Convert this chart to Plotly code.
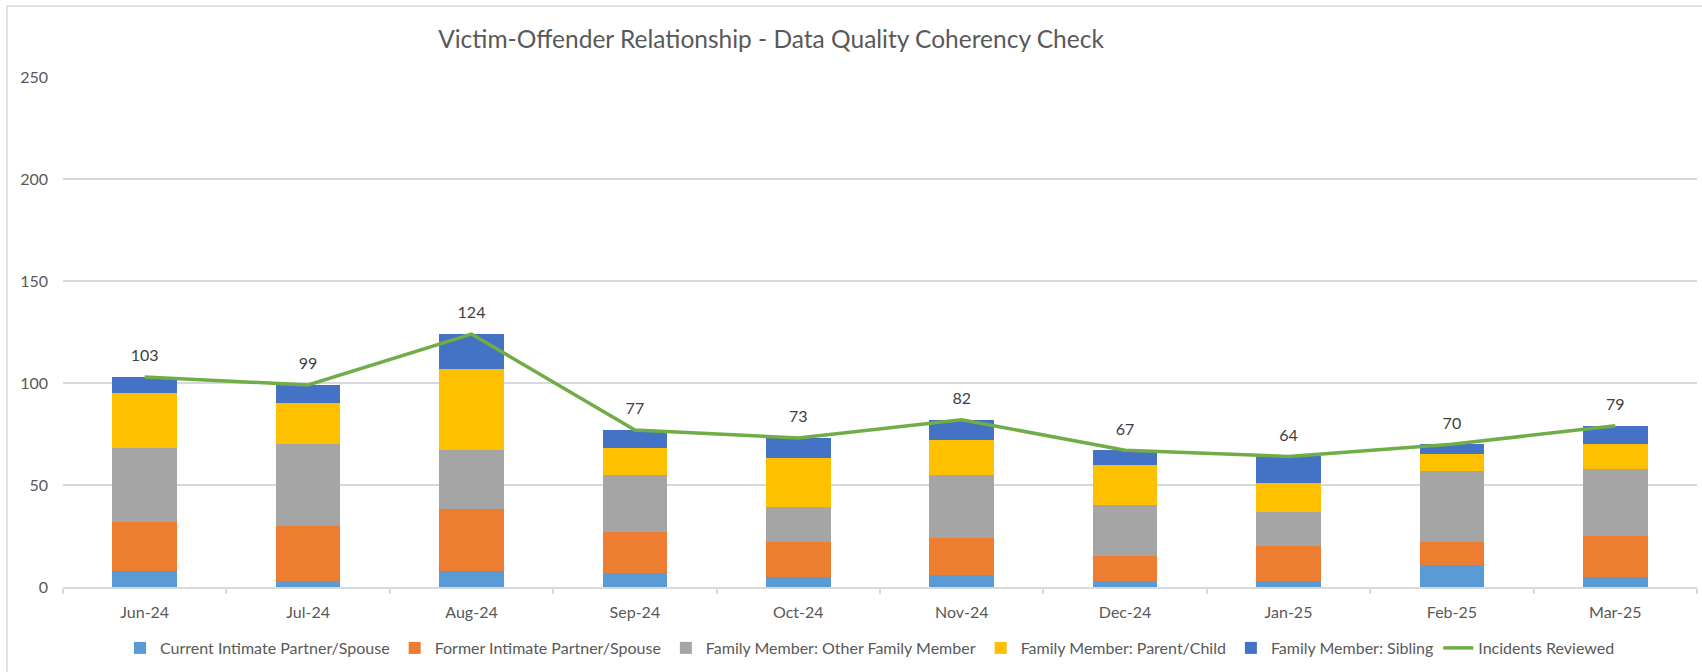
import plotly.graph_objects as go

months = ["Jun-24", "Jul-24", "Aug-24", "Sep-24", "Oct-24", "Nov-24", "Dec-24", "Jan-25", "Feb-25", "Mar-25"]
current_partner = [8, 3, 8, 7, 5, 6, 3, 3, 11, 5]
former_partner = [24, 27, 30, 20, 17, 18, 12, 17, 11, 20]
other_family = [36, 40, 29, 28, 17, 31, 25, 17, 35, 33]
parent_child = [27, 20, 40, 13, 24, 17, 20, 14, 8, 12]
sibling = [8, 9, 17, 9, 10, 10, 7, 13, 5, 9]
incidents_reviewed = [103, 99, 124, 77, 73, 82, 67, 64, 70, 79]

series = [
    ("Current Intimate Partner/Spouse", current_partner, "#5B9BD5"),
    ("Former Intimate Partner/Spouse", former_partner, "#ED7D31"),
    ("Family Member: Other Family Member", other_family, "#A5A5A5"),
    ("Family Member: Parent/Child", parent_child, "#FFC000"),
    ("Family Member: Sibling", sibling, "#4472C4"),
]

FONT = "Lato, Calibri, Carlito, sans-serif"
GRAY = "#595959"

fig = go.Figure()
for name, vals, color in series:
    fig.add_trace(go.Bar(x=months, y=vals, name=name, marker=dict(color=color, line=dict(width=0))))

fig.add_trace(go.Scatter(x=months, y=incidents_reviewed, name="Incidents Reviewed", mode="lines",
                         line=dict(color="#70AD47", width=3.5)))
fig.add_trace(go.Scatter(x=months, y=incidents_reviewed, mode="markers+text", showlegend=False,
                         text=[str(v) for v in incidents_reviewed], textposition="top center",
                         marker=dict(size=17, opacity=0), cliponaxis=False,
                         textfont=dict(family=FONT, size=16, color="#404040"), hoverinfo="skip"))

W, H = 1702, 672
L, R, T, B = 63, 5, 77, 85
pw, ph = W - L - R, H - T - B

def px_x(p):
    return (p - L) / pw

def px_y(p):
    return (H - B - p) / ph

fig.update_layout(
    width=W, height=H,
    margin=dict(l=L, r=R, t=T, b=B),
    barmode="stack", bargap=0.604,
    paper_bgcolor="white", plot_bgcolor="white",
    font=dict(family=FONT, size=16, color=GRAY),
    title=dict(text="Victim-Offender Relationship - Data Quality Coherency Check",
               x=771 / W, xref="container", xanchor="center",
               y=1 - 39 / H, yref="container", yanchor="middle",
               font=dict(family=FONT, size=24.5, color=GRAY)),
    xaxis=dict(range=[-0.5, len(months) - 0.5], autorange=False,
               showline=True, linecolor="#D9D9D9", linewidth=1.5, ticks="outside", tickson="boundaries",
               ticklen=5, tickcolor="#D9D9D9", tickwidth=1.5, ticklabelstandoff=10,
               tickfont=dict(family=FONT, size=16, color=GRAY), showgrid=False),
    yaxis=dict(range=[0, 250], dtick=50, showgrid=True, gridcolor="#D9D9D9", gridwidth=1.5,
               zeroline=False, ticks="", ticklabelstandoff=14,
               tickfont=dict(family=FONT, size=16, color=GRAY)),
    legend=dict(orientation="h", x=px_x(870), xanchor="center", y=px_y(648), yanchor="middle",
                font=dict(family=FONT, size=16, color=GRAY), traceorder="normal", itemwidth=30),
    shapes=[dict(type="rect", xref="paper", yref="paper", x0=px_x(7), x1=px_x(1712),
                 y0=px_y(690), y1=px_y(6), line=dict(color="#D9D9D9", width=1.5), layer="below")],
)

fig.write_html("out.html", config={"displayModeBar": False},
               post_script="document.body.style.margin='0px';")
